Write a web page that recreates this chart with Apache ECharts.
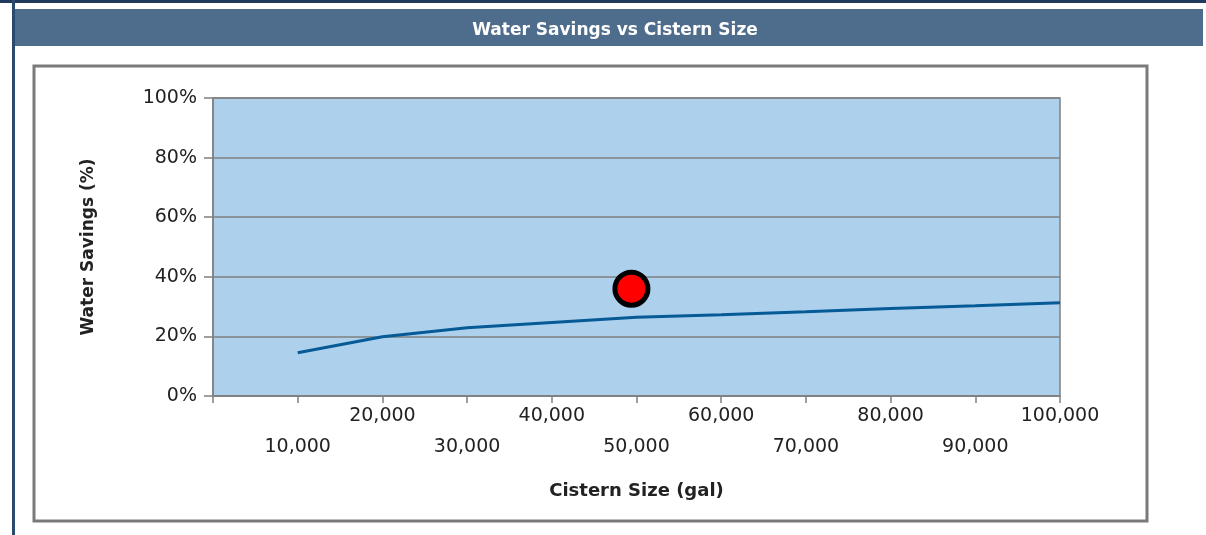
<!DOCTYPE html>
<html>
<head>
<meta charset="utf-8">
<script src="https://cdn.jsdelivr.net/npm/echarts@6/dist/echarts.min.js"></script>
<style>
  html, body { margin: 0; padding: 0; background: #fff; }
  #chart { width: 1206px; height: 535px; }
</style>
</head>
<body>
<div id="chart"></div>
<script>
// cistern size (gal) and water savings (%)
var cisternSizes = [10000, 20000, 30000, 40000, 50000, 60000, 70000, 80000, 90000, 100000];
var savings = [14.5, 19.9, 22.9, 24.7, 26.4, 27.3, 28.3, 29.4, 30.3, 31.3];
// the current cistern (red dot)
var current = [[49400, 36]];

var lineData = cisternSizes.map(function (x, i) { return [x, savings[i]]; });

var myChart = echarts.init(document.getElementById('chart'));

option = {
  animation: false,
  title: {
    text: 'Water Savings vs Cistern Size',
    left: 610,
    top: 17,
    textAlign: 'center',
    textStyle: {
      color: '#fff',
      fontFamily: 'DejaVu Sans, sans-serif',
      fontWeight: 'bold',
      fontSize: 17
    }
  },
  graphic: [
    { type: 'rect', shape: { x: 0, y: 0, width: 1206, height: 3 }, style: { fill: '#1f3a5c' }, z: -10 },
    { type: 'rect', shape: { x: 12, y: 0, width: 3, height: 535 }, style: { fill: '#2b4a70' }, z: -10 },
    { type: 'rect', shape: { x: 15, y: 9, width: 1188, height: 37 }, style: { fill: '#4e6d8c' }, z: -10 },
    { type: 'rect', shape: { x: 34, y: 66, width: 1113, height: 455 },
      style: { fill: '#fff', stroke: '#7a7a7a', lineWidth: 3 }, z: -10 }
  ],
  grid: {
    left: 213,
    top: 98,
    width: 847,
    height: 298,
    show: true,
    backgroundColor: '#add0ec',
    borderColor: '#808080',
    borderWidth: 1.5
  },
  xAxis: {
    type: 'value',
    min: 0,
    max: 100000,
    interval: 10000,
    name: 'Cistern Size (gal)',
    nameLocation: 'middle',
    nameGap: 86,
    nameTextStyle: {
      color: '#222',
      fontFamily: 'DejaVu Sans, sans-serif',
      fontWeight: 'bold',
      fontSize: 18
    },
    axisLine: { show: true, lineStyle: { color: '#808080', width: 1.5 } },
    axisTick: { show: true, length: 7, lineStyle: { color: '#808080', width: 1.5 } },
    splitLine: { show: false },
    axisLabel: {
      margin: 5,
      lineHeight: 31,
      color: '#222',
      fontFamily: 'DejaVu Sans, sans-serif',
      fontSize: 19,
      formatter: function (v) {
        if (v === 0) return '';
        var s = v.toLocaleString('en-US');
        return (v / 10000) % 2 === 1 ? '\n' + s : s;
      }
    }
  },
  yAxis: {
    type: 'value',
    min: 0,
    max: 100,
    interval: 20,
    name: 'Water Savings (%)',
    nameLocation: 'middle',
    nameGap: 116,
    nameTextStyle: {
      color: '#222',
      fontFamily: 'DejaVu Sans, sans-serif',
      fontWeight: 'bold',
      fontSize: 17
    },
    axisLine: { show: true, lineStyle: { color: '#808080', width: 1.5 } },
    axisTick: { show: true, length: 9, lineStyle: { color: '#808080', width: 1.5 } },
    splitLine: { show: true, lineStyle: { color: '#808080', width: 1.5 } },
    axisLabel: {
      margin: 16,
      color: '#222',
      fontFamily: 'DejaVu Sans, sans-serif',
      fontSize: 19,
      formatter: '{value}%'
    }
  },
  series: [
    {
      type: 'line',
      data: lineData,
      showSymbol: false,
      lineStyle: { color: '#065a96', width: 3 }
    },
    {
      type: 'scatter',
      data: current,
      symbolSize: 33,
      itemStyle: { color: '#ff0000', borderColor: '#000', borderWidth: 5, opacity: 1 },
      z: 5
    }
  ]
};

myChart.setOption(option);
window.addEventListener('resize', function () {
  myChart.resize();
});
</script>
</body>
</html>
